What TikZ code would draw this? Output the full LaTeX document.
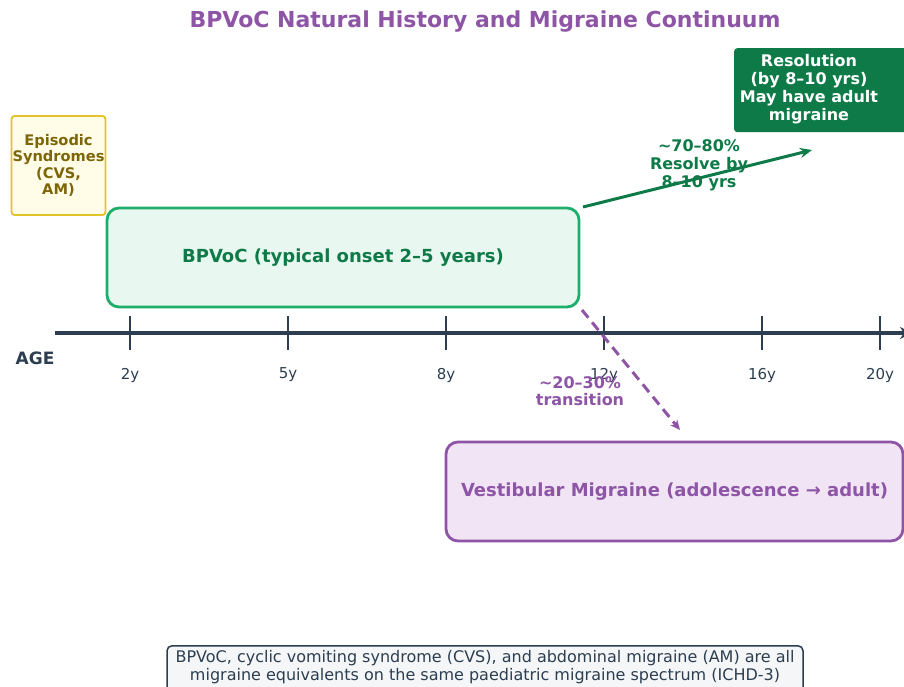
\documentclass[tikz,border=0pt]{standalone}
\usepackage{fontspec}
\setmainfont{DejaVu Sans}
\usetikzlibrary{arrows.meta}
\definecolor{ttl}{HTML}{8E55A6}
\definecolor{axc}{HTML}{2C3E50}
\definecolor{gdark}{HTML}{0E7A47}
\definecolor{gline}{HTML}{1DAE6C}
\definecolor{gfill}{HTML}{E8F8F1}
\definecolor{ybord}{HTML}{E3C22A}
\definecolor{yfill}{HTML}{FFFDE8}
\definecolor{ytext}{HTML}{7D6608}
\definecolor{pfill}{HTML}{F0E4F5}
\definecolor{nfill}{HTML}{F4F6F7}
\tikzset{
  tick/.style={line width=2pt, draw=axc},
  ticklab/.style={font=\fontsize{15}{17}\selectfont, text=axc},
  boldtxt/.style={font=\bfseries\fontsize{16}{18}\selectfont, align=center}
}
\begin{document}
\begin{tikzpicture}[x=1pt,y=-1pt]
\useasboundingbox (0,0) rectangle (904,686);
\fill[white] (0,0) rectangle (904,686);
% title
\node[font=\bfseries\fontsize{22}{26}\selectfont, text=ttl] (title) at (485,22) {BPVoC Natural History and Migraine Continuum};
% axis
\draw[line width=3.5pt, draw=axc, -{Stealth[length=12pt,width=12pt]}] (55,333) -- (912,333);
\foreach \x/\l/\n in {130/2y/ta,288/5y/tb,446/8y/tc,604/12y/td,762/16y/te,880/20y/tf}{
  \draw[tick] (\x,316) -- (\x,350);
  \node[ticklab] (\n) at (\x,375) {\l};
}
\node[font=\bfseries\fontsize{17}{19}\selectfont, text=axc] (age) at (35,358) {AGE};
% episodic
\node[draw=ybord, fill=yfill, line width=1.8pt, rounded corners=3pt, minimum width=93pt, minimum height=99pt, inner sep=1pt, text=ytext, font=\bfseries\fontsize{14.6}{16.5}\selectfont, align=center] (epi) at (58.5,165.5) {Episodic\\Syndromes\\(CVS,\\AM)};
% bpvoc
\node[draw=gline, fill=gfill, line width=2.8pt, rounded corners=12pt, minimum width=472pt, minimum height=99pt, text=gdark, font=\bfseries\fontsize{18}{21}\selectfont] (bp) at (343,257.5) {BPVoC (typical onset 2–5 years)};
% resolution
\node[fill=gdark, rounded corners=3pt, minimum width=180pt, minimum height=84pt, anchor=north west, inner sep=0pt] (res) at (734,48) {};
\node[text=white, boldtxt] (restxt) at (809,89.5) {Resolution\\(by 8–10 yrs)\\May have adult\\migraine};
% green arrow
\coordinate (gs) at (583,207);
\coordinate (ge) at (812,150);
\draw[line width=3pt, draw=gdark, -{Stealth[length=12pt,width=10pt]}] (gs) -- (ge);
\node[text=gdark, boldtxt] (glab) at (699,165) {\textasciitilde70–80\%\\Resolve by\\8–10 yrs};
% vestibular
\node[draw=ttl, fill=pfill, line width=2.8pt, rounded corners=12pt, minimum width=457pt, minimum height=99pt, text=ttl, font=\bfseries\fontsize{18}{21}\selectfont] (vm) at (674.5,491.5) {Vestibular Migraine (adolescence → adult)};
% purple dashed
\coordinate (ps) at (582,310);
\coordinate (pe) at (680,430);
\draw[line width=3pt, draw=ttl, dash pattern=on 10pt off 6pt, -{Stealth[length=10pt,width=9pt]}] (ps) -- (pe);
\node[text=ttl, font=\bfseries\fontsize{16}{17}\selectfont, align=center] (plab) at (580,391.5) {\textasciitilde20–30\%\\transition};
% footnote
\node[draw=axc, fill=nfill, line width=1.5pt, rounded corners=5pt, minimum width=636pt, minimum height=60pt, anchor=north, inner sep=0pt] (fn) at (485,645) {};
\node[font=\fontsize{16}{18}\selectfont, text=axc, align=center] (fntxt) at (485,667) {BPVoC, cyclic vomiting syndrome (CVS), and abdominal migraine (AM) are all\\migraine equivalents on the same paediatric migraine spectrum (ICHD-3)};
\end{tikzpicture}
\end{document}
